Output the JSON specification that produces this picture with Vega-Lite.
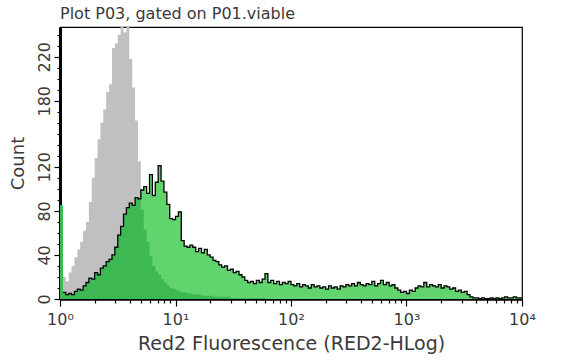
{
  "$schema": "https://vega.github.io/schema/vega-lite/v6.json",
  "autosize": {"type": "none"},
  "width": 462,
  "height": 272,
  "padding": {"left": 60, "top": 27, "right": 63, "bottom": 61},
  "background": "white",
  "title": {"text": "Plot P03, gated on P01.viable", "anchor": "start", "frame": "group", "offset": 5, "fontSize": 16, "font": "DejaVu Sans", "fontWeight": "normal", "color": "#3a3a3a"},
  "config": {
    "view": {"stroke": "black", "strokeWidth": 1.2},
    "axis": {"labelFont": "DejaVu Sans", "titleFont": "DejaVu Sans", "labelColor": "#3a3a3a", "titleColor": "#3a3a3a", "titleFontWeight": "normal", "domainColor": "black", "tickColor": "black", "grid": false, "labelOverlap": false, "labelFlush": false}
  },
  "data": {"values": [
    {"x":1,"g":85,"n":85,"d":85},
    {"x":1.0593,"g":20,"n":6,"d":6},
    {"x":1.122,"g":16,"n":4,"d":4},
    {"x":1.1885,"g":24,"n":5,"d":5},
    {"x":1.2589,"g":30,"n":4,"d":4},
    {"x":1.3335,"g":38,"n":7,"d":7},
    {"x":1.4125,"g":45,"n":9,"d":9},
    {"x":1.4962,"g":52,"n":8,"d":8},
    {"x":1.5849,"g":62,"n":12,"d":12},
    {"x":1.6788,"g":70,"n":15,"d":15},
    {"x":1.7783,"g":88,"n":19,"d":19},
    {"x":1.8836,"g":110,"n":18,"d":18},
    {"x":1.9953,"g":128,"n":24,"d":24},
    {"x":2.1135,"g":145,"n":22,"d":22},
    {"x":2.2387,"g":160,"n":28,"d":28},
    {"x":2.3714,"g":172,"n":30,"d":30},
    {"x":2.5119,"g":188,"n":34,"d":34},
    {"x":2.6607,"g":195,"n":36,"d":36},
    {"x":2.8184,"g":228,"n":40,"d":40},
    {"x":2.9854,"g":232,"n":47,"d":47},
    {"x":3.1623,"g":240,"n":58,"d":58},
    {"x":3.3497,"g":255,"n":66,"d":66},
    {"x":3.5481,"g":242,"n":77,"d":77},
    {"x":3.7584,"g":255,"n":83,"d":83},
    {"x":3.9811,"g":218,"n":87,"d":87},
    {"x":4.217,"g":192,"n":85,"d":85},
    {"x":4.4668,"g":162,"n":92,"d":92},
    {"x":4.7315,"g":125,"n":91,"d":91},
    {"x":5.0119,"g":81,"n":99,"d":81},
    {"x":5.3088,"g":63,"n":102,"d":63},
    {"x":5.6234,"g":52,"n":96,"d":52},
    {"x":5.9566,"g":39,"n":113,"d":39},
    {"x":6.3096,"g":30,"n":94,"d":30},
    {"x":6.6834,"g":25,"n":106,"d":25},
    {"x":7.0795,"g":22,"n":121,"d":22},
    {"x":7.4989,"g":18,"n":107,"d":18},
    {"x":7.9433,"g":15,"n":97,"d":15},
    {"x":8.414,"g":12,"n":86,"d":12},
    {"x":8.9125,"g":10,"n":73,"d":10},
    {"x":9.4406,"g":9,"n":72,"d":9},
    {"x":10,"g":8,"n":75,"d":8},
    {"x":10.593,"g":7,"n":79,"d":7},
    {"x":11.22,"g":6,"n":53,"d":6},
    {"x":11.885,"g":6,"n":48,"d":6},
    {"x":12.589,"g":5,"n":47,"d":5},
    {"x":13.335,"g":5,"n":49,"d":5},
    {"x":14.125,"g":4,"n":47,"d":4},
    {"x":14.962,"g":4,"n":43,"d":4},
    {"x":15.849,"g":4,"n":46,"d":4},
    {"x":16.788,"g":3,"n":42,"d":3},
    {"x":17.783,"g":3,"n":45,"d":3},
    {"x":18.836,"g":3,"n":40,"d":3},
    {"x":19.953,"g":3,"n":38,"d":3},
    {"x":21.135,"g":2,"n":35,"d":2},
    {"x":22.387,"g":2,"n":34,"d":2},
    {"x":23.714,"g":2,"n":31,"d":2},
    {"x":25.119,"g":2,"n":29,"d":2},
    {"x":26.607,"g":2,"n":30,"d":2},
    {"x":28.184,"g":2,"n":26,"d":2},
    {"x":29.854,"g":1,"n":27,"d":1},
    {"x":31.623,"g":1,"n":24,"d":1},
    {"x":33.497,"g":1,"n":25,"d":1},
    {"x":35.481,"g":1,"n":22,"d":1},
    {"x":37.584,"g":1,"n":20,"d":1},
    {"x":39.811,"g":1,"n":17,"d":1},
    {"x":42.17,"g":1,"n":15,"d":1},
    {"x":44.668,"g":1,"n":16,"d":1},
    {"x":47.315,"g":1,"n":14,"d":1},
    {"x":50.119,"g":1,"n":17,"d":1},
    {"x":53.088,"g":1,"n":15,"d":1},
    {"x":56.234,"g":1,"n":18,"d":1},
    {"x":59.566,"g":0,"n":23,"d":0},
    {"x":63.096,"g":0,"n":15,"d":0},
    {"x":66.834,"g":0,"n":17,"d":0},
    {"x":70.795,"g":0,"n":14,"d":0},
    {"x":74.989,"g":0,"n":16,"d":0},
    {"x":79.433,"g":0,"n":13,"d":0},
    {"x":84.14,"g":0,"n":15,"d":0},
    {"x":89.125,"g":0,"n":14,"d":0},
    {"x":94.406,"g":0,"n":16,"d":0},
    {"x":100,"g":0,"n":13,"d":0},
    {"x":105.93,"g":0,"n":12,"d":0},
    {"x":112.2,"g":0,"n":14,"d":0},
    {"x":118.85,"g":0,"n":11,"d":0},
    {"x":125.89,"g":0,"n":13,"d":0},
    {"x":133.35,"g":0,"n":12,"d":0},
    {"x":141.25,"g":0,"n":10,"d":0},
    {"x":149.62,"g":0,"n":13,"d":0},
    {"x":158.49,"g":0,"n":11,"d":0},
    {"x":167.88,"g":0,"n":12,"d":0},
    {"x":177.83,"g":0,"n":10,"d":0},
    {"x":188.36,"g":0,"n":11,"d":0},
    {"x":199.53,"g":0,"n":9,"d":0},
    {"x":211.35,"g":0,"n":12,"d":0},
    {"x":223.87,"g":0,"n":10,"d":0},
    {"x":237.14,"g":0,"n":11,"d":0},
    {"x":251.19,"g":0,"n":9,"d":0},
    {"x":266.07,"g":0,"n":12,"d":0},
    {"x":281.84,"g":0,"n":11,"d":0},
    {"x":298.54,"g":0,"n":13,"d":0},
    {"x":316.23,"g":0,"n":12,"d":0},
    {"x":334.97,"g":0,"n":14,"d":0},
    {"x":354.81,"g":0,"n":12,"d":0},
    {"x":375.84,"g":0,"n":15,"d":0},
    {"x":398.11,"g":0,"n":13,"d":0},
    {"x":421.7,"g":0,"n":12,"d":0},
    {"x":446.68,"g":0,"n":14,"d":0},
    {"x":473.15,"g":0,"n":13,"d":0},
    {"x":501.19,"g":0,"n":16,"d":0},
    {"x":530.88,"g":0,"n":12,"d":0},
    {"x":562.34,"g":0,"n":14,"d":0},
    {"x":595.66,"g":0,"n":17,"d":0},
    {"x":630.96,"g":0,"n":13,"d":0},
    {"x":668.34,"g":0,"n":15,"d":0},
    {"x":707.95,"g":0,"n":12,"d":0},
    {"x":749.89,"g":0,"n":13,"d":0},
    {"x":794.33,"g":0,"n":10,"d":0},
    {"x":841.4,"g":0,"n":8,"d":0},
    {"x":891.25,"g":0,"n":6,"d":0},
    {"x":944.06,"g":0,"n":7,"d":0},
    {"x":1000,"g":0,"n":5,"d":0},
    {"x":1059.3,"g":0,"n":8,"d":0},
    {"x":1122,"g":0,"n":7,"d":0},
    {"x":1188.5,"g":0,"n":10,"d":0},
    {"x":1258.9,"g":0,"n":12,"d":0},
    {"x":1333.5,"g":0,"n":11,"d":0},
    {"x":1412.5,"g":0,"n":15,"d":0},
    {"x":1496.2,"g":0,"n":11,"d":0},
    {"x":1584.9,"g":0,"n":13,"d":0},
    {"x":1678.8,"g":0,"n":12,"d":0},
    {"x":1778.3,"g":0,"n":11,"d":0},
    {"x":1883.6,"g":0,"n":13,"d":0},
    {"x":1995.3,"g":0,"n":10,"d":0},
    {"x":2113.5,"g":0,"n":12,"d":0},
    {"x":2238.7,"g":0,"n":11,"d":0},
    {"x":2371.4,"g":0,"n":9,"d":0},
    {"x":2511.9,"g":0,"n":10,"d":0},
    {"x":2660.7,"g":0,"n":7,"d":0},
    {"x":2818.4,"g":0,"n":8,"d":0},
    {"x":2985.4,"g":0,"n":6,"d":0},
    {"x":3162.3,"g":0,"n":7,"d":0},
    {"x":3349.7,"g":0,"n":4,"d":0},
    {"x":3548.1,"g":0,"n":2,"d":0},
    {"x":3758.4,"g":0,"n":1,"d":0},
    {"x":3981.1,"g":0,"n":1,"d":0},
    {"x":4217,"g":0,"n":0,"d":0},
    {"x":4466.8,"g":0,"n":1,"d":0},
    {"x":4731.5,"g":0,"n":0,"d":0},
    {"x":5011.9,"g":0,"n":0,"d":0},
    {"x":5308.8,"g":0,"n":1,"d":0},
    {"x":5623.4,"g":0,"n":0,"d":0},
    {"x":5956.6,"g":0,"n":1,"d":0},
    {"x":6309.6,"g":0,"n":0,"d":0},
    {"x":6683.4,"g":0,"n":1,"d":0},
    {"x":7079.5,"g":0,"n":2,"d":0},
    {"x":7498.9,"g":0,"n":1,"d":0},
    {"x":7943.3,"g":0,"n":1,"d":0},
    {"x":8414,"g":0,"n":2,"d":0},
    {"x":8912.5,"g":0,"n":1,"d":0},
    {"x":9440.6,"g":0,"n":1,"d":0},
    {"x":10000,"g":0,"n":1,"d":0}
  ]},
  "encoding": {
    "x": {"field": "x", "type": "quantitative", "scale": {"type": "log", "domain": [1, 10000]},
      "axis": {"title": "Red2 Fluorescence (RED2-HLog)", "titleFontSize": 19, "titlePadding": 7, "labelFontSize": 16, "labelPadding": 5, "domainWidth": 2.5, "tickWidth": 1.2,
        "values": [1,2,3,4,5,6,7,8,9,10,20,30,40,50,60,70,80,90,100,200,300,400,500,600,700,800,900,1000,2000,3000,4000,5000,6000,7000,8000,9000,10000],
        "labelExpr": "datum.value == 1 ? '10⁰' : datum.value == 10 ? '10¹' : datum.value == 100 ? '10²' : datum.value == 1000 ? '10³' : datum.value == 10000 ? '10⁴' : ''",
        "tickSize": {"condition": {"test": "indexof([1,10,100,1000,10000], datum.value) >= 0", "value": 7}, "value": 4}}},
    "y": {"type": "quantitative", "scale": {"domain": [0, 247], "nice": false},
      "axis": {"title": "Count", "titleFontSize": 18, "titlePadding": 9, "labelFontSize": 16, "labelAngle": 270, "labelPadding": 2, "domainWidth": 3, "tickWidth": 1.2,
        "values": [0,10,20,30,40,50,60,70,80,90,100,110,120,130,140,150,160,170,180,190,200,210,220,230,240],
        "labelExpr": "indexof([0,40,80,120,180,220], datum.value) >= 0 ? datum.label : ''",
        "tickSize": {"condition": {"test": "indexof([0,40,80,120,180,220], datum.value) >= 0", "value": 6}, "value": 3}}}
  },
  "layer": [
    {"mark": {"type": "area", "interpolate": "step-after", "color": "#c0c0c0", "clip": true}, "encoding": {"y": {"field": "g"}}},
    {"mark": {"type": "area", "interpolate": "step-after", "color": "#62d46d", "clip": true}, "encoding": {"y": {"field": "n"}}},
    {"mark": {"type": "area", "interpolate": "step-after", "color": "#3db852", "clip": true}, "encoding": {"y": {"field": "d"}}},
    {"transform": [{"filter": "datum.x > 1"}], "mark": {"type": "line", "interpolate": "step-after", "color": "black", "strokeWidth": 1.3, "clip": true}, "encoding": {"y": {"field": "n"}}}
  ]
}
